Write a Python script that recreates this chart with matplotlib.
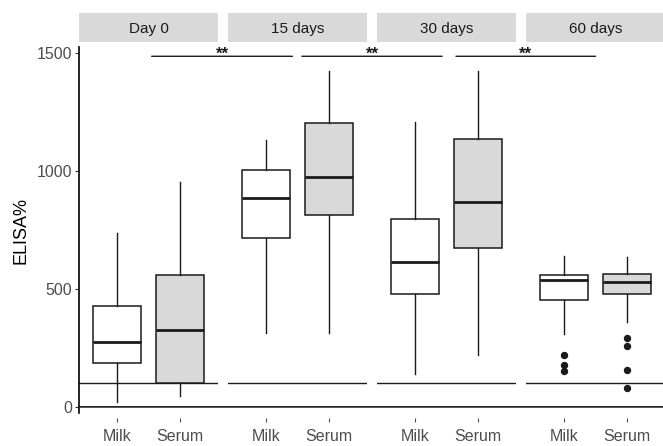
import matplotlib
matplotlib.use("Agg")
import matplotlib.pyplot as plt
from matplotlib.patches import ConnectionPatch

plt.rcParams['font.family'] = ['Liberation Sans', 'DejaVu Sans']

panels = ["Day 0", "15 days", "30 days", "60 days"]
groups = ["Milk", "Serum"]
fills = ["white", "#D9D9D9"]

# [whislo, q1, med, q3, whishi] per panel, per group
milk_stats = [
    [20, 186, 274, 427, 737],
    [314, 716, 884, 1001, 1131],
    [141, 476, 613, 795, 1205],
    [309, 453, 535, 558, 638],
]
serum_stats = [
    [48, 102, 325, 558, 950],
    [314, 814, 972, 1202, 1421],
    [219, 671, 867, 1136, 1421],
    [359, 476, 528, 564, 634],
]
milk_out = [[], [], [], [219, 177, 154]]
serum_out = [[], [], [], [292, 257, 158, 82]]

ref_line = 100
sig_y = 1484
sig_from = [(0, 1.55), (1, 1.57), (2, 1.65)]
sig_to = [(1, 1.42), (2, 1.43), (3, 1.50)]
sig_labels = ["**", "**", "**"]

W, H = 663, 446
fig = plt.figure(figsize=(W / 100, H / 100), dpi=100)

panel_x = [79, 228, 377, 526]
pw = 139
p_top, p_bot = 44, 418
axes = []
for i, name in enumerate(panels):
    ax = fig.add_axes([panel_x[i] / W, (H - p_bot) / H, pw / W, (p_bot - p_top) / H])
    axes.append(ax)
    stats = []
    for g, src, outs in ((0, milk_stats, milk_out), (1, serum_stats, serum_out)):
        lo, q1, med, q3, hi = src[i]
        stats.append(dict(whislo=lo, q1=q1, med=med, q3=q3, whishi=hi,
                          fliers=outs[i], label=groups[g]))
    bp = ax.bxp(stats, positions=[1, 2], widths=0.75, patch_artist=True,
                showcaps=False,
                boxprops=dict(linewidth=1.1, edgecolor="#1a1a1a"),
                medianprops=dict(color="#1a1a1a", linewidth=2.0),
                whiskerprops=dict(color="#1a1a1a", linewidth=1.0),
                flierprops=dict(marker="o", markerfacecolor="#1a1a1a",
                                markeredgecolor="#1a1a1a", markersize=4.3))
    for patch, fc in zip(bp["boxes"], fills):
        patch.set_facecolor(fc)
    ax.axhline(ref_line, color="#1a1a1a", linewidth=1.0, zorder=0.5)
    ax.set_xlim(0.4, 2.6)
    ax.set_ylim(-47, 1536)
    ax.set_xticks([1, 2])
    ax.set_xticklabels(groups, fontsize=11.5, color="#4D4D4D")
    ax.tick_params(axis="x", length=3, width=0.8, color="#4D4D4D", pad=5)
    for s in ["top", "right", "bottom"]:
        ax.spines[s].set_visible(False)
    if i == 0:
        ax.set_yticks([0, 500, 1000, 1500])
        ax.set_yticklabels(["0", "500", "1000", "1500"], fontsize=11.5, color="#4D4D4D")
        ax.tick_params(axis="y", length=3, width=0.8, color="#333333", pad=2)
        ax.spines["left"].set_bounds(-25, 1525)
        ax.spines["left"].set_linewidth(1.2)
        ax.set_ylabel("ELISA%", fontsize=13, color="black", labelpad=5)
    else:
        ax.spines["left"].set_visible(False)
        ax.set_yticks([])
    ax.patch.set_alpha(0)
    # strip
    sax = fig.add_axes([panel_x[i] / W, (H - 42) / H, pw / W, 29 / H])
    sax.set_xticks([]); sax.set_yticks([])
    for s in sax.spines.values():
        s.set_visible(False)
    sax.set_facecolor("#D9D9D9")
    sax.text(0.5, 0.45, name, ha="center", va="center", fontsize=11,
             color="#1A1A1A", transform=sax.transAxes)

# line at 0 across all panels
con = ConnectionPatch(xyA=(0.4, 0), coordsA="data", axesA=axes[0],
                      xyB=(2.6, 0), coordsB="data", axesB=axes[-1],
                      color="#1a1a1a", linewidth=1.2)
fig.add_artist(con)

# significance brackets
inv = fig.transFigure.inverted()
for (ia, xa), (ib, xb), lab in zip(sig_from, sig_to, sig_labels):
    c = ConnectionPatch(xyA=(xa, sig_y), coordsA="data", axesA=axes[ia],
                        xyB=(xb, sig_y), coordsB="data", axesB=axes[ib],
                        color="#1a1a1a", linewidth=1.0)
    fig.add_artist(c)
    pa = axes[ia].transData.transform((xa, sig_y))
    pb = axes[ib].transData.transform((xb, sig_y))
    mid = inv.transform(((pa[0] + pb[0]) / 2, pa[1]))
    fig.text(mid[0], mid[1] - 2.5 / H, lab, ha="center", va="baseline",
             fontsize=12, fontweight="bold", color="#1a1a1a")

fig.savefig("out.png", dpi=100)
